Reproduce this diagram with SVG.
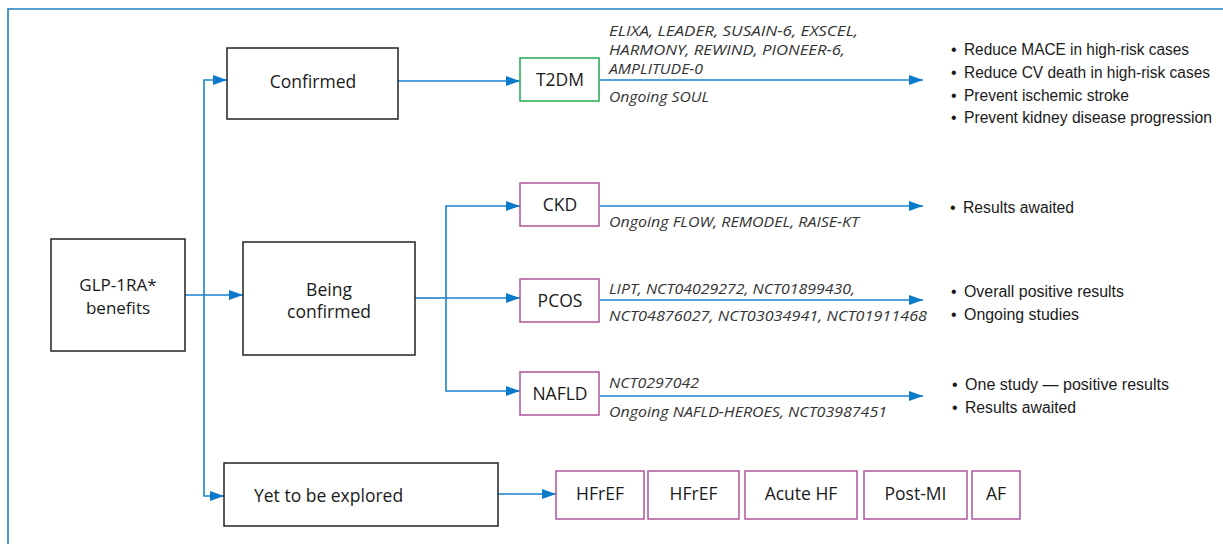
<svg xmlns="http://www.w3.org/2000/svg" width="1223" height="544" viewBox="0 0 1223 544">
<style>
.box{fill:#fff;stroke:#222;stroke-width:1.5}
.mag{fill:#fff;stroke:#b0569a;stroke-width:1.5}
.grn{fill:#fff;stroke:#1fa94f;stroke-width:1.5}
.t{font-family:"Open Sans","Noto Sans",sans-serif;font-size:17.5px;fill:#1a1a1a;text-anchor:middle}
.t2{font-family:"Open Sans","Noto Sans",sans-serif;font-size:17px;fill:#1a1a1a;text-anchor:middle}
.lab{font-family:"Open Sans","Noto Sans",sans-serif;font-size:15px;font-style:italic;fill:#333}
.bul{font-family:"Liberation Sans",Arial,sans-serif;font-size:16px;fill:#1a1a1a}
.con{fill:none;stroke:#1a82cc;stroke-width:1.6}
</style>
<defs>
<marker id="arr" markerUnits="userSpaceOnUse" markerWidth="14" markerHeight="10" refX="14" refY="5" orient="auto">
<path d="M0,0 L14,5 L0,10 z" fill="#0a7acb"/>
</marker>
</defs>
<rect x="0" y="0" width="1223" height="544" fill="#fff"/>
<path d="M8,544 V9 H1223" fill="none" stroke="#1f7cc0" stroke-width="1.6"/>

<g id="connectors">
<path class="con" d="M204,295 V80 H227" marker-end="url(#arr)"/>
<path class="con" d="M204,295 V496 H224" marker-end="url(#arr)"/>
<path class="con" d="M185,295 H243" marker-end="url(#arr)"/>
<path class="con" d="M398,81 H520" marker-end="url(#arr)"/>
<path class="con" d="M600,80 H923" marker-end="url(#arr)"/>
<path class="con" d="M415,298 H446"/>
<path class="con" d="M446,298 V206 H520" marker-end="url(#arr)"/>
<path class="con" d="M446,298 H520" marker-end="url(#arr)"/>
<path class="con" d="M446,298 V391 H520" marker-end="url(#arr)"/>
<path class="con" d="M600,206 H923" marker-end="url(#arr)"/>
<path class="con" d="M600,300 H923" marker-end="url(#arr)"/>
<path class="con" d="M600,396 H923" marker-end="url(#arr)"/>
<path class="con" d="M498,494 H556" marker-end="url(#arr)"/>
</g>

<g id="glp">
<rect class="box" x="51" y="239" width="134" height="112"/>
<text class="t2" x="118" y="291">GLP-1RA*</text>
<text class="t2" x="118" y="314">benefits</text>
</g>

<g id="confirmed">
<rect class="box" x="227" y="48" width="171" height="71"/>
<text class="t" x="313" y="88">Confirmed</text>
</g>

<g id="being">
<rect class="box" x="243" y="242" width="172" height="113"/>
<text class="t" x="329" y="296">Being</text>
<text class="t" x="329" y="318">confirmed</text>
</g>

<g id="yet">
<rect class="box" x="224" y="463" width="274" height="63"/>
<text class="t" x="254" y="502" style="text-anchor:start">Yet to be explored</text>
</g>

<g id="t2dm">
<rect class="grn" x="520" y="58" width="79" height="43"/>
<text class="t" x="560" y="86">T2DM</text>
<text class="lab" x="609" y="36" textLength="249" lengthAdjust="spacingAndGlyphs">ELIXA, LEADER, SUSAIN-6, EXSCEL,</text>
<text class="lab" x="609" y="55" textLength="236" lengthAdjust="spacingAndGlyphs">HARMONY, REWIND, PIONEER-6,</text>
<text class="lab" x="609" y="74" textLength="94" lengthAdjust="spacingAndGlyphs">AMPLITUDE-0</text>
<text class="lab" x="609" y="102" textLength="100" lengthAdjust="spacingAndGlyphs">Ongoing SOUL</text>
<text class="bul" x="951" y="55">•</text>
<text class="bul" x="964" y="55" textLength="225" lengthAdjust="spacingAndGlyphs">Reduce MACE in high-risk cases</text>
<text class="bul" x="951" y="78">•</text>
<text class="bul" x="964" y="78" textLength="246" lengthAdjust="spacingAndGlyphs">Reduce CV death in high-risk cases</text>
<text class="bul" x="951" y="101">•</text>
<text class="bul" x="964" y="101" textLength="165" lengthAdjust="spacingAndGlyphs">Prevent ischemic stroke</text>
<text class="bul" x="951" y="123">•</text>
<text class="bul" x="964" y="123" textLength="248" lengthAdjust="spacingAndGlyphs">Prevent kidney disease progression</text>
</g>

<g id="ckd">
<rect class="mag" x="520" y="183" width="79" height="43"/>
<text class="t" x="560" y="211">CKD</text>
<text class="lab" x="609" y="227" textLength="250" lengthAdjust="spacingAndGlyphs">Ongoing FLOW, REMODEL, RAISE-KT</text>
<text class="bul" x="950" y="213">•</text>
<text class="bul" x="963" y="213" textLength="111" lengthAdjust="spacingAndGlyphs">Results awaited</text>
</g>

<g id="pcos">
<rect class="mag" x="520" y="279" width="79" height="43"/>
<text class="t" x="560" y="307">PCOS</text>
<text class="lab" x="609" y="294" textLength="246" lengthAdjust="spacingAndGlyphs">LIPT, NCT04029272, NCT01899430,</text>
<text class="lab" x="609" y="321" textLength="318" lengthAdjust="spacingAndGlyphs">NCT04876027, NCT03034941, NCT01911468</text>
<text class="bul" x="951" y="297">•</text>
<text class="bul" x="964" y="297" textLength="160" lengthAdjust="spacingAndGlyphs">Overall positive results</text>
<text class="bul" x="951" y="320">•</text>
<text class="bul" x="964" y="320" textLength="115" lengthAdjust="spacingAndGlyphs">Ongoing studies</text>
</g>

<g id="nafld">
<rect class="mag" x="520" y="372" width="79" height="43"/>
<text class="t" x="560" y="400">NAFLD</text>
<text class="lab" x="609" y="388" textLength="90" lengthAdjust="spacingAndGlyphs">NCT0297042</text>
<text class="lab" x="609" y="417" textLength="278" lengthAdjust="spacingAndGlyphs">Ongoing NAFLD-HEROES, NCT03987451</text>
<text class="bul" x="952" y="390">•</text>
<text class="bul" x="965" y="390" textLength="204" lengthAdjust="spacingAndGlyphs">One study — positive results</text>
<text class="bul" x="952" y="413">•</text>
<text class="bul" x="965" y="413" textLength="111" lengthAdjust="spacingAndGlyphs">Results awaited</text>
</g>

<g id="hfref1">
<rect class="mag" x="556" y="471" width="88" height="48"/>
<text class="t" x="600" y="500">HFrEF</text>
</g>
<g id="hfref2">
<rect class="mag" x="648" y="471" width="91" height="48"/>
<text class="t" x="693.5" y="500">HFrEF</text>
</g>
<g id="acutehf">
<rect class="mag" x="745" y="471" width="112" height="48"/>
<text class="t" x="801" y="500">Acute HF</text>
</g>
<g id="postmi">
<rect class="mag" x="864" y="471" width="103" height="48"/>
<text class="t" x="915.5" y="500">Post-MI</text>
</g>
<g id="af">
<rect class="mag" x="972" y="471" width="48" height="48"/>
<text class="t" x="996" y="500">AF</text>
</g>
</svg>
